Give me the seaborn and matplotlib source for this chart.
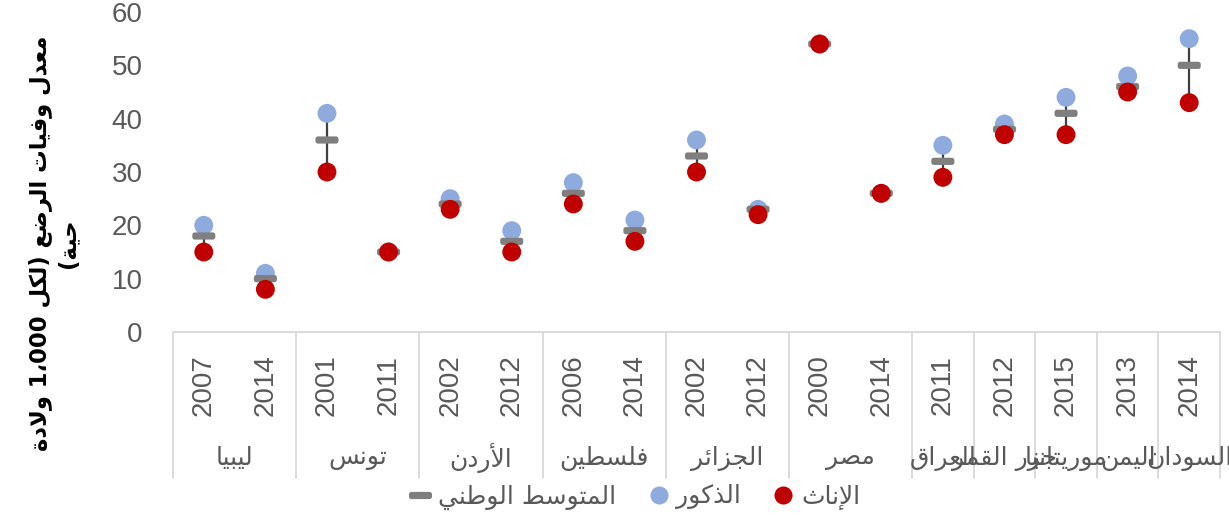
import re
import numpy as np
import pandas as pd
import matplotlib
matplotlib.use("Agg")
import matplotlib.pyplot as plt
import matplotlib.transforms as mtransforms
from matplotlib.path import Path
from matplotlib.lines import Line2D
import seaborn as sns

# ---------------- data ----------------
countries = ["ليبيا", "ليبيا", "تونس", "تونس", "الأردن", "الأردن", "فلسطين", "فلسطين",
             "الجزائر", "الجزائر", "مصر", "مصر", "العراق", "جزر القمر", "موريتانيا",
             "اليمن", "السودان"]
years = ["2007", "2014", "2001", "2011", "2002", "2012", "2006", "2014",
         "2002", "2012", "2000", "2014", "2011", "2012", "2015", "2013", "2014"]
male = [20, 11, 41, 15, 25, 19, 28, 21, 36, 23, 54, 26, 35, 39, 44, 48, 55]
female = [15, 8, 30, 15, 23, 15, 24, 17, 30, 22, 54, 26, 29, 37, 37, 45, 43]
national = [18, 10, 36, 15, 24, 17, 26, 19, 33, 23, 54, 26, 32, 38, 41, 46, 50]
y_ticks = [0, 10, 20, 30, 40, 50, 60]
y_label = "معدل وفيات الرضع (لكل 1،000 ولادة\nحية)"
legend_labels = ["المتوسط الوطني", "الذكور", "الإناث"]

# ---------------- minimal Arabic shaping + RTL ordering ----------------
RIGHT = {0x0622: 0xFE81, 0x0623: 0xFE83, 0x0624: 0xFE85, 0x0625: 0xFE87, 0x0627: 0xFE8D,
         0x0629: 0xFE93, 0x062F: 0xFEA9, 0x0630: 0xFEAB, 0x0631: 0xFEAD, 0x0632: 0xFEAF,
         0x0648: 0xFEED, 0x0649: 0xFEEF}
DUAL = {0x0626: 0xFE89, 0x0628: 0xFE8F, 0x062A: 0xFE95, 0x062B: 0xFE99, 0x062C: 0xFE9D,
        0x062D: 0xFEA1, 0x062E: 0xFEA5, 0x0633: 0xFEB1, 0x0634: 0xFEB5, 0x0635: 0xFEB9,
        0x0636: 0xFEBD, 0x0637: 0xFEC1, 0x0638: 0xFEC5, 0x0639: 0xFEC9, 0x063A: 0xFECD,
        0x0641: 0xFED1, 0x0642: 0xFED5, 0x0643: 0xFED9, 0x0644: 0xFEDD, 0x0645: 0xFEE1,
        0x0646: 0xFEE5, 0x0647: 0xFEE9, 0x064A: 0xFEF1}
LAMALEF = {0x0622: 0xFEF5, 0x0623: 0xFEF7, 0x0625: 0xFEF9, 0x0627: 0xFEFB}
MIRROR = {"(": ")", ")": "(", "[": "]", "]": "["}


def shape(s):
    toks = []
    i = 0
    while i < len(s):
        c = ord(s[i])
        if c == 0x0644 and i + 1 < len(s) and ord(s[i + 1]) in LAMALEF:
            toks.append(("R", LAMALEF[ord(s[i + 1])]))
            i += 2
            continue
        if c in DUAL:
            toks.append(("D", DUAL[c]))
        elif c in RIGHT:
            toks.append(("R", RIGHT[c]))
        else:
            toks.append(("N", c))
        i += 1
    out = []
    for k, (t, b) in enumerate(toks):
        if t in "DR":
            prev = k > 0 and toks[k - 1][0] == "D"
            nxt = t == "D" and k + 1 < len(toks) and toks[k + 1][0] in "DR"
            if prev and nxt:
                ch = b + 3
            elif prev:
                ch = b + 1
            elif nxt:
                ch = b + 2
            else:
                ch = b
            out.append(chr(ch))
        else:
            out.append(chr(b))
    return "".join(out)


def ar(s):
    res = []
    for line in s.split("\n"):
        sh = shape(line)
        parts = re.findall(r"[0-9][0-9\u060C.,]*[0-9]|[0-9]|.", sh)
        parts = [MIRROR.get(p, p) for p in parts][::-1]
        res.append("".join(parts))
    return "\n".join(res)


# ---------------- figure ----------------
sns.set_theme(style="white")
plt.rcParams["font.family"] = ["Liberation Sans", "DejaVu Sans"]

GRAY_TXT = "#595959"
BLUE = "#8FAADC"
RED = "#C00000"
DASH_C = "#7F7F7F"
LINE_C = "#D9D9D9"

W, H = 1229, 519
fig = plt.figure(figsize=(W / 100, H / 100), dpi=100)
ax = fig.add_axes([173 / W, 187 / H, (1220 - 173) / W, 320 / H])

df = pd.DataFrame({"x": np.arange(len(years)), "male": male,
                   "female": female, "national": national})

# rounded horizontal bar marker for the national average
r = 0.35
dash = Path([(-1.6 + r, -0.5), (1.6 - r, -0.5), (1.6, -0.5), (1.6, -0.5 + r),
             (1.6, 0.5 - r), (1.6, 0.5), (1.6 - r, 0.5), (-1.6 + r, 0.5),
             (-1.6, 0.5), (-1.6, 0.5 - r), (-1.6, -0.5 + r), (-1.6, -0.5),
             (-1.6 + r, -0.5), (-1.6 + r, -0.5)],
            [Path.MOVETO, Path.LINETO, Path.CURVE3, Path.CURVE3,
             Path.LINETO, Path.CURVE3, Path.CURVE3, Path.LINETO,
             Path.CURVE3, Path.CURVE3, Path.LINETO, Path.CURVE3, Path.CURVE3,
             Path.CLOSEPOLY])

ax.vlines(df["x"], df["female"], df["male"], color="#404040", lw=1.6, zorder=1)
sns.scatterplot(data=df, x="x", y="male", color=BLUE, s=185, edgecolor="none",
                zorder=2, ax=ax, legend=False)
sns.scatterplot(data=df, x="x", y="national", marker=dash, color=DASH_C, s=275,
                edgecolor="none", zorder=3, ax=ax, legend=False)
sns.scatterplot(data=df, x="x", y="female", color=RED, s=185, edgecolor="none",
                zorder=4, ax=ax, legend=False)

ax.set_xlim(-0.5, len(years) - 0.5)
ax.set_ylim(0, 60)
ax.set_yticks(y_ticks)
ax.set_yticklabels([str(v) for v in y_ticks], fontsize=20, color=GRAY_TXT)
ax.tick_params(axis="y", length=0, pad=22)
ax.set_xticks([])
ax.set_xlabel("")
ax.set_ylabel("")
for sp in ["left", "top", "right"]:
    ax.spines[sp].set_visible(False)
ax.spines["bottom"].set_color(LINE_C)
ax.spines["bottom"].set_linewidth(1.3)

trans = mtransforms.blended_transform_factory(ax.transData, ax.transAxes)

# year labels
for i, yr in enumerate(years):
    ax.text(i, -0.166, yr, transform=trans, rotation=90, ha="center", va="center",
            fontsize=20, color=GRAY_TXT)

# groups
groups = []
start = 0
for i in range(1, len(countries) + 1):
    if i == len(countries) or countries[i] != countries[start]:
        groups.append((countries[start], start, i - 1))
        start = i
bounds = [-0.5] + [g[2] + 0.5 for g in groups]
for b in bounds:
    ax.plot([b, b], [0, -0.456], transform=trans, color=LINE_C, lw=1.3, clip_on=False)
for name, s0, s1 in groups:
    ax.text((s0 + s1) / 2, -0.394, ar(name), transform=trans, ha="center", va="center",
            fontsize=18, color=GRAY_TXT, family=["DejaVu Sans"])

# y label
fig.text(54 / W, 1 - 243 / H, ar(y_label), rotation=90, ha="center", va="center",
         multialignment="center", fontsize=16.3, fontweight="bold", color="black",
         family=["DejaVu Sans"], linespacing=1.25)

# legend
handles = [
    Line2D([], [], marker=dash, linestyle="none", color=DASH_C, markersize=16.6,
           markeredgewidth=0),
    Line2D([], [], marker="o", linestyle="none", color=BLUE, markersize=13,
           markeredgewidth=0),
    Line2D([], [], marker="o", linestyle="none", color=RED, markersize=13,
           markeredgewidth=0),
]
leg = fig.legend(handles, [ar(t) for t in legend_labels], loc="center",
                 bbox_to_anchor=(634 / W, 1 - 497 / H), ncol=3, frameon=False,
                 handletextpad=0.2, columnspacing=1.2, handlelength=1.0,
                 prop={"family": ["DejaVu Sans"], "size": 18})
for t in leg.get_texts():
    t.set_color(GRAY_TXT)

fig.savefig("out.png", dpi=100)
